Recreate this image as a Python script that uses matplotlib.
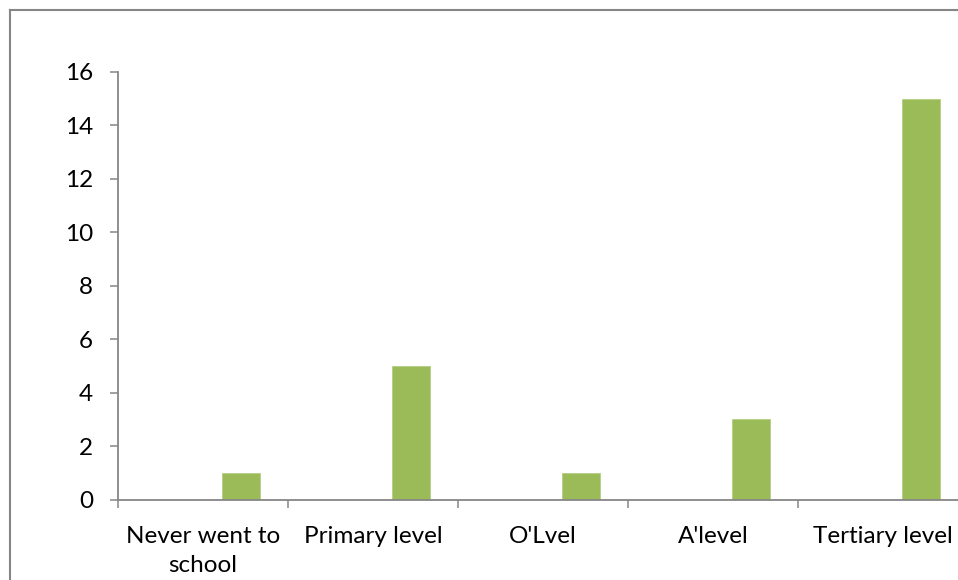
import numpy as np
import matplotlib
matplotlib.use("Agg")
import matplotlib.pyplot as plt
from matplotlib.lines import Line2D

categories = ["Never went to\nschool", "Primary level", "O'Lvel", "A'level", "Tertiary level"]
counts = [1, 5, 1, 3, 15]
yticks = [0, 2, 4, 6, 8, 10, 12, 14, 16]

W, H = 958, 580
plt.rcParams['font.family'] = ['Lato', 'DejaVu Sans']
fig = plt.figure(figsize=(W / 100, H / 100), dpi=100)

# axes box is wider than the picture: the right edge got cropped in the original
ax = fig.add_axes([118 / W, (H - 499.5) / H, 850 / W, 427.5 / H])

grey = '#868686'
green = '#9BBB59'
fs = 17.5

x = np.arange(len(categories))
bw = 1 / 4.5
ax.bar(x + bw, counts, width=bw, color=green, edgecolor='#B5CF84', linewidth=0.6)

ax.set_xlim(-0.5, len(categories) - 0.5)
ax.set_ylim(0, 16)
ax.set_yticks(yticks)
ax.set_yticklabels([str(v) for v in yticks])

ax.set_xticks(np.arange(len(categories) + 1) - 0.5)
ax.set_xticklabels([])
ax.set_xticks(x, minor=True)
ax.set_xticklabels(categories, minor=True, linespacing=1.5)

for s in ['top', 'right']:
    ax.spines[s].set_visible(False)
for s in ['left', 'bottom']:
    ax.spines[s].set_color(grey)
    ax.spines[s].set_linewidth(1.3)

ax.tick_params(axis='both', which='major', direction='out', length=6, width=1.1,
               color=grey, labelsize=fs, labelcolor='black')
ax.tick_params(axis='y', pad=12)
ax.tick_params(axis='x', which='minor', length=0, pad=19, labelsize=fs)

# chart-area border (left and top edges visible in the crop)
fig.add_artist(Line2D([9.5 / W, 9.5 / W], [0, (H - 9.5) / H], color=grey, lw=1.5,
                      transform=fig.transFigure))
fig.add_artist(Line2D([9.5 / W, 1], [(H - 9.5) / H, (H - 9.5) / H], color=grey, lw=1.5,
                      transform=fig.transFigure))

fig.savefig('out.png', dpi=100)
